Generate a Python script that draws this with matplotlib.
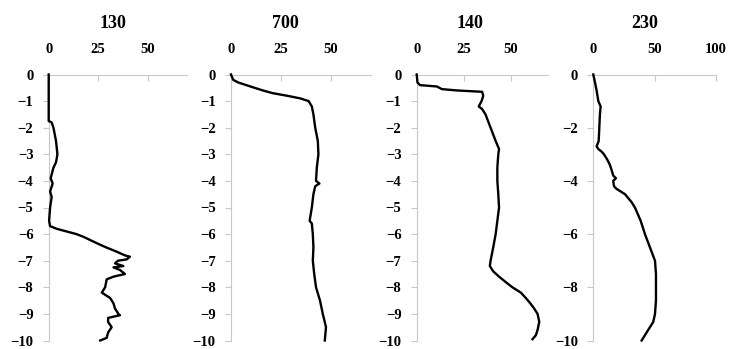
import matplotlib.pyplot as plt

# depth profiles (depth, value)
titles = ["130", "700", "140", "230"]

depth_130 = [0, -1.75, -1.8, -2, -2.5, -3, -3.3, -3.5, -3.9, -4.1, -4.4, -4.6, -5, -5.5,
             -5.7, -5.8, -5.9, -6, -6.1, -6.25, -6.4, -6.5, -6.65, -6.8, -6.85, -6.95,
             -7, -7.1, -7.2, -7.25, -7.35, -7.5, -7.6, -7.7, -8, -8.2, -8.4, -8.6, -8.8,
             -9, -9.05, -9.15, -9.3, -9.5, -9.7, -9.9, -10]
val_130 = [0, 0, 1.5, 2.4, 3.7, 4.4, 3.7, 2.4, 1, 2, 0.7, 1.5, 0.7, 0.2,
           0.7, 4, 9, 14, 17.5, 21.7, 26, 29, 34, 38.5, 41, 39.4,
           35, 33.5, 37.7, 32.7, 36, 38.5, 32.7, 29.3, 28.5, 26.8, 31, 32.7, 33.5,
           35.2, 36, 30, 30, 31.8, 30, 29.3, 26]

depth_700 = [0, -0.2, -0.3, -0.4, -0.5, -0.6, -0.7, -0.8, -0.9, -1, -1.2, -1.5, -2, -2.5,
             -3, -3.5, -4, -4.1, -4.2, -4.5, -5, -5.5, -5.6, -6, -6.5, -7, -7.5, -8,
             -8.5, -9, -9.5, -10]
val_700 = [0, 1.1, 3.6, 7.7, 11.8, 16, 20.8, 28.2, 34.8, 38.9, 40.5, 41.3, 42.2, 43.5,
           43.8, 43, 42.6, 44.3, 42.2, 41.3, 40.5, 39.4, 40.5, 41, 41.3, 41, 41.7, 42.6,
           44.6, 46, 47.6, 47]

depth_140 = [0, -0.3, -0.4, -0.45, -0.55, -0.6, -0.65, -0.8, -1, -1.2, -1.3, -1.5, -2,
             -2.5, -2.8, -3, -3.5, -4, -4.5, -5, -5.5, -6, -6.5, -7, -7.2, -7.4, -7.6,
             -7.8, -8, -8.2, -8.4, -8.6, -8.8, -9, -9.3, -9.6, -9.8, -9.95]
val_140 = [0, 0.4, 1.8, 10.7, 13.4, 21.4, 34.8, 35.4, 34.5, 33, 34.8, 36.6, 39.3,
           42, 43.8, 43.4, 42.9, 42.9, 43.4, 43.8, 42.9, 42, 40.7, 39.3, 38.9, 40.7, 43.8,
           47.3, 50.9, 55.4, 58, 60.4, 62.5, 64.3, 65.2, 64.3, 63.4, 61.6]

depth_230 = [0, -0.3, -0.6, -1, -1.2, -1.5, -2, -2.5, -2.7, -2.8, -2.9, -3, -3.2, -3.4,
             -3.6, -3.8, -3.9, -4, -4.2, -4.3, -4.5, -4.8, -5, -5.5, -6, -6.5, -7, -7.5,
             -8, -8.5, -9, -9.3, -9.6, -9.8, -10]
val_230 = [0, 1.4, 2.7, 4.1, 6, 5.4, 4.9, 4.4, 2.7, 4.1, 6.8, 8.7, 11.4, 13.6,
           15, 16.3, 18.5, 16.3, 16.9, 19, 25.9, 31.3, 34, 38.7, 42.2, 46.3, 50.4, 51.2,
           51.2, 51.2, 50.4, 49, 44.9, 42.2, 39.5]

depths = [depth_130, depth_700, depth_140, depth_230]
values = [val_130, val_700, val_140, val_230]
xmax = [70, 70, 70, 100]
xticks = [[0, 25, 50], [0, 25, 50], [0, 25, 50], [0, 50, 100]]
yticks = [list(range(0, -11, -1))] * 3 + [list(range(0, -11, -2))]

plt.rcParams['font.family'] = 'Liberation Serif'
plt.rcParams['font.weight'] = 'bold'

fig = plt.figure(figsize=(7.29, 3.49), dpi=100)
W, H = 729, 349
# axes placement in pixels: left, right; title centre x
lefts = [48.7, 231, 416.7, 593.3]
rights = [187.3, 370.7, 548.3, 715.7]
title_x = [113, 285, 470, 645]
top, bottom = 74.5, 340.5
gray = '#c8c8c8'

for i in range(4):
    ax = fig.add_axes([lefts[i] / W, 1 - bottom / H,
                       (rights[i] - lefts[i]) / W, (bottom - top) / H])
    ax.plot(values[i], depths[i], color='black', lw=1.7, zorder=3, clip_on=False)
    ax.set_xlim(0, xmax[i])
    ax.set_ylim(-10, 0)
    ax.set_xticks(xticks[i])
    ax.set_yticks(yticks[i])
    ax.xaxis.tick_top()
    for s in ['right', 'bottom']:
        ax.spines[s].set_visible(False)
    for s in ['left', 'top']:
        ax.spines[s].set_color(gray)
        ax.spines[s].set_linewidth(0.8)
    ax.tick_params(axis='x', direction='in', length=4, color=gray, pad=13, labelsize=10.5)
    ax.tick_params(axis='y', direction='out', length=4, color=gray, pad=7, labelsize=10.5)
    fig.text(title_x[i] / W, 1 - 23 / H, titles[i], ha='center', va='center',
             fontsize=13, fontweight='bold')

fig.savefig('out.png', dpi=100)
